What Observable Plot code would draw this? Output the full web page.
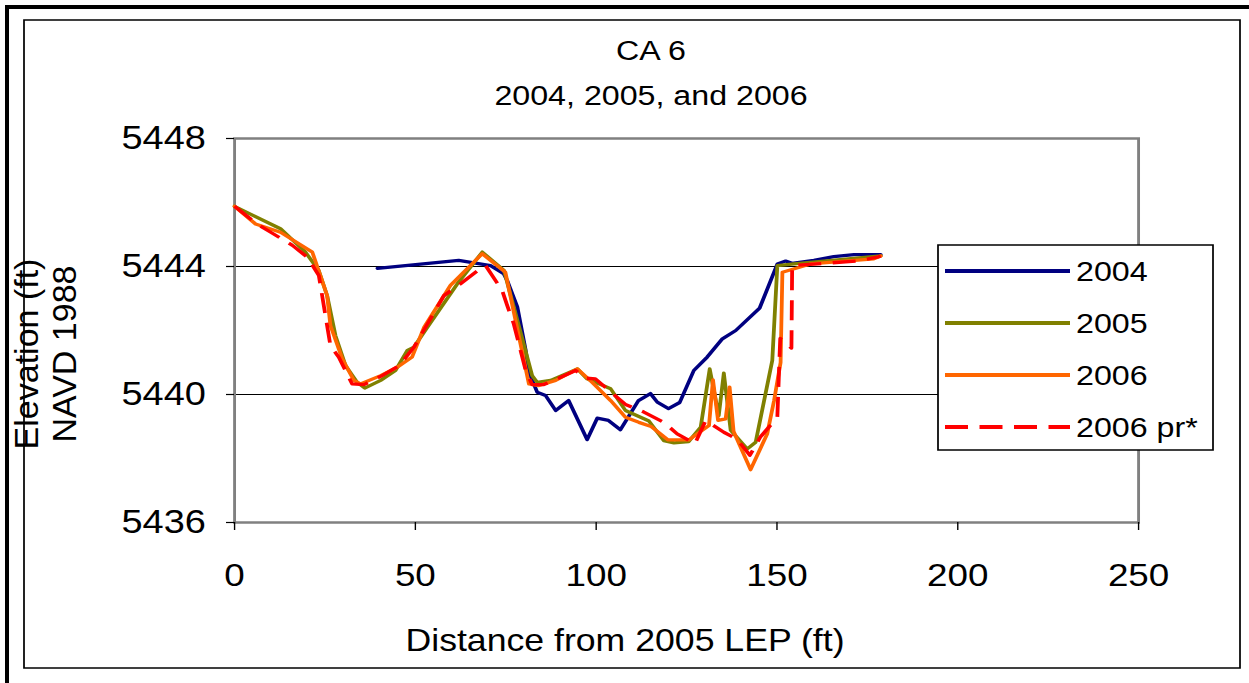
<!DOCTYPE html>
<html>
<head>
<meta charset="utf-8">
<script src="https://cdn.jsdelivr.net/npm/d3@7"></script>
<script src="https://cdn.jsdelivr.net/npm/@observablehq/plot@0.6"></script>
<style>
  html, body { margin: 0; padding: 0; background: #fff; }
  #chart { width: 1249px; height: 683px; overflow: hidden; }
</style>
</head>
<body>
<div id="chart"></div>
<script>
// ---- data ----
const titleLines = ["CA 6", "2004, 2005, and 2006"];
const xLabel = "Distance from 2005 LEP (ft)";
const yLabelLines = ["Elevation (ft)", "NAVD 1988"];
const xTicks = [0, 50, 100, 150, 200, 250];
const yTicks = [5436, 5440, 5444, 5448];
const gridValues = [5440, 5444];
const seriesNames = ["2004", "2005", "2006", "2006 pr*"];
const seriesColors = ["#000080", "#808000", "#FF6600", "#FF0000"];

const x2004 = [39.5, 62, 70.8, 74.4, 75.4, 78.2, 80.5, 81.4, 83.7, 86, 88.8, 92.4, 97.5, 100.3, 103.4, 106.7, 111.7, 115, 116.9, 120, 123.1, 127, 130.7, 134.9, 138.6, 145.2, 150.1, 152.4, 154.2, 160.2, 165.7, 171.3, 178.7];
const y2004 = [5443.94, 5444.19, 5444.03, 5443.78, 5443.56, 5442.73, 5441.38, 5440.70, 5440.07, 5439.97, 5439.5, 5439.81, 5438.59, 5439.26, 5439.19, 5438.9, 5439.81, 5440.03, 5439.76, 5439.56, 5439.75, 5440.75, 5441.17, 5441.74, 5442.0, 5442.7, 5444.08, 5444.17, 5444.1, 5444.19, 5444.31, 5444.37, 5444.37];

const x2005 = [0, 12.7, 19.6, 23.3, 25.6, 27.9, 30.7, 33.9, 36.0, 40.4, 44.5, 47.8, 49.6, 53.3, 61.6, 68.5, 74.5, 82.3, 83.7, 87.4, 94.8, 97.5, 104, 108.1, 114.6, 118.7, 121.5, 125.6, 128.9, 131.4, 133.9, 135.3, 137.2, 141.8, 144.1, 148.7, 150.1, 154.7, 178.7];
const y2005 = [5445.88, 5445.18, 5444.45, 5443.87, 5443.09, 5441.84, 5440.9, 5440.38, 5440.2, 5440.44, 5440.75, 5441.38, 5441.48, 5442.1, 5443.46, 5444.45, 5443.88, 5440.59, 5440.38, 5440.44, 5440.8, 5440.49, 5440.18, 5439.5, 5439.17, 5438.56, 5438.49, 5438.53, 5438.98, 5440.8, 5439.34, 5440.67, 5438.88, 5438.3, 5438.51, 5441.06, 5444.03, 5444.08, 5444.33];

const x2006 = [0, 5.8, 12.7, 21.5, 25.6, 26.5, 29.8, 33, 34.8, 40.4, 45, 49.1, 52.4, 59.7, 68.5, 74.9, 81.4, 84.2, 88.8, 94.8, 98.9, 104, 108.1, 111.8, 115.2, 119.9, 125.6, 131.2, 132.3, 133.7, 135.8, 136.9, 138, 142.7, 147.3, 149.2, 151, 151.5, 159.3, 176.8, 178.7];
const y2006 = [5445.88, 5445.33, 5445.07, 5444.45, 5443.09, 5442.16, 5441.11, 5440.44, 5440.33, 5440.59, 5440.85, 5441.17, 5442.1, 5443.41, 5444.4, 5443.82, 5440.33, 5440.28, 5440.44, 5440.8, 5440.38, 5439.81, 5439.29, 5439.13, 5439.0, 5438.58, 5438.58, 5439.03, 5440.46, 5439.19, 5439.24, 5440.23, 5438.85, 5437.65, 5438.77, 5439.81, 5441.0, 5443.82, 5444.08, 5444.24, 5444.33];

const xPr = [0, 5.8, 10, 16, 20.1, 23.3, 26.5, 28.8, 32.5, 35.8, 40.8, 45.5, 49.6, 57.9, 62.5, 67.6, 69.4, 74, 75.4, 77.2, 80.5, 82.3, 85.5, 90.2, 94.3, 97.1, 99.8, 108.1, 113.2, 118.7, 122.4, 127.3, 130.3, 135.3, 139, 142.5, 145.4, 150.1, 150.9, 154.0, 154.2, 172.2, 177.7, 178.7];
const yPr = [5445.88, 5445.36, 5445.07, 5444.66, 5444.29, 5443.72, 5441.53, 5441.17, 5440.33, 5440.31, 5440.59, 5440.9, 5441.48, 5443.09, 5443.46, 5443.9, 5444.03, 5443.25, 5442.78, 5442.21, 5440.75, 5440.31, 5440.31, 5440.54, 5440.75, 5440.51, 5440.49, 5439.69, 5439.45, 5439.13, 5438.77, 5438.46, 5439.19, 5438.82, 5438.6, 5438.1, 5438.67, 5439.29, 5441.75, 5441.45, 5444.03, 5444.17, 5444.29, 5444.33];

const seriesX = [x2004, x2005, x2006, xPr];
const seriesY = [y2004, y2005, y2006, yPr];

// ---- build ----
const SX = 1.15;              // horizontal stretch of the reference rendering
const W = 1249 / SX, H = 683;
const font = "'Liberation Sans', Arial, sans-serif";

const tables = seriesNames.map((name, i) =>
  seriesX[i].map((d, j) => ({distance: d, elevation: seriesY[i][j], series: name})));

const lineMarks = tables.map((t, i) => Plot.line(t, {
  x: "distance", y: "elevation",
  stroke: seriesColors[i], strokeWidth: 3.3,
  strokeDasharray: i === 3 ? "20,10" : null,
  strokeLinecap: i === 3 ? "butt" : "round"
}));

const svg = Plot.plot({
  width: W, height: H,
  marginLeft: 234 / SX, marginRight: (1249 - 1138) / SX,
  marginTop: 138, marginBottom: H - 522,
  style: {fontFamily: font, fontSize: "32px", color: "#000", background: "#fff", overflow: "visible"},
  x: {domain: [0, 250]},
  y: {domain: [5436, 5448]},
  marks: [
    Plot.gridY(gridValues, {stroke: "#000", strokeOpacity: 1, strokeWidth: 1.2}),
    Plot.frame({stroke: "#808080", strokeWidth: 2.5}),
    Plot.axisX(xTicks, {tickSize: 8, tickPadding: 33, fontSize: 32, stroke: "#000", strokeWidth: 1.2, label: null, tickFormat: d => String(d)}),
    Plot.axisY(yTicks, {tickSize: 8 / SX, tickPadding: 18, fontSize: 33, stroke: "#000", strokeWidth: 1.2, label: null, tickFormat: d => String(d)}),
    ...lineMarks
  ]
});

svg.setAttribute("width", 1249);
svg.setAttribute("height", H);
svg.setAttribute("preserveAspectRatio", "none");
svg.style.width = "1249px";
svg.style.height = H + "px";
svg.style.maxWidth = "none";

const g = d3.select(svg);
const L = v => v / SX; // real px -> logical x

// borders
g.insert("rect", ":first-child").attr("x", L(24)).attr("y", 20).attr("width", L(1240 - 24)).attr("height", 668 - 20)
  .attr("fill", "none").attr("stroke", "#000").attr("stroke-width", 1.5);
g.append("line").attr("x1", L(5)).attr("x2", L(1249)).attr("y1", 7).attr("y2", 7).attr("stroke", "#000").attr("stroke-width", 4);
g.append("line").attr("x1", L(7)).attr("x2", L(7)).attr("y1", 5).attr("y2", H).attr("stroke", "#000").attr("stroke-width", 4 / SX);

// title
titleLines.forEach((t, i) => {
  g.append("text").attr("x", L(651)).attr("y", 60 + i * 45).attr("text-anchor", "middle")
    .attr("font-family", font).attr("font-size", 28).attr("fill", "#000").text(t);
});

// x label
g.append("text").attr("x", L(625)).attr("y", 651).attr("text-anchor", "middle")
  .attr("font-family", font).attr("font-size", 31).attr("fill", "#000").text(xLabel);

// y label (un-stretched so the rotated glyphs keep their natural height)
const yLabelBase = [38, 76];
yLabelLines.forEach((t, i) => {
  g.append("text").attr("transform", `translate(${L(yLabelBase[i])},354) scale(${1 / SX},1) rotate(-90)`)
    .attr("text-anchor", "middle").attr("font-family", font).attr("font-size", 34).attr("fill", "#000").text(t);
});

// legend
const lg = g.append("g");
lg.append("rect").attr("x", L(938)).attr("y", 245).attr("width", L(1213 - 938)).attr("height", 450 - 245)
  .attr("fill", "#fff").attr("stroke", "#000").attr("stroke-width", 1.5);
const rowY = [271, 323, 375, 427];
seriesNames.forEach((name, i) => {
  lg.append("line").attr("x1", L(945)).attr("x2", L(1070)).attr("y1", rowY[i]).attr("y2", rowY[i])
    .attr("stroke", seriesColors[i]).attr("stroke-width", 4)
    .attr("stroke-dasharray", i === 3 ? "20,10" : null);
  lg.append("text").attr("x", L(1076)).attr("y", rowY[i] + 10).attr("text-anchor", "start")
    .attr("font-family", font).attr("font-size", 28).attr("fill", "#000").text(name);
});

document.getElementById("chart").appendChild(svg);
</script>
</body>
</html>
